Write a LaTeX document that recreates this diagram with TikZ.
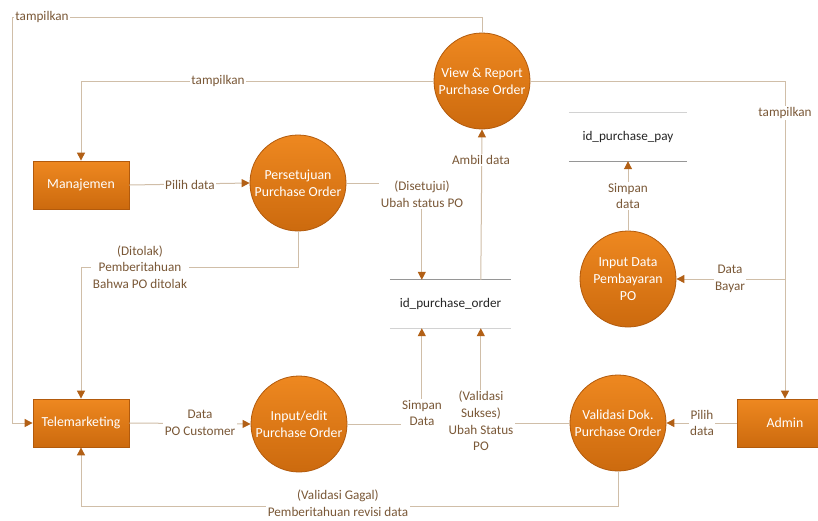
\documentclass[tikz,border=0pt]{standalone}
\usepackage{fontspec}
\setmainfont{Carlito}
\usetikzlibrary{arrows.meta,calc}
\definecolor{flow}{RGB}{208,190,168}
\definecolor{tipc}{RGB}{178,96,22}
\definecolor{lbl}{RGB}{122,88,55}
\definecolor{procA}{RGB}{238,136,32}
\definecolor{procB}{RGB}{204,106,14}
\definecolor{procE}{RGB}{178,90,12}
\definecolor{storeDark}{RGB}{150,150,150}
\definecolor{storeLight}{RGB}{210,210,210}
\tikzset{
  txt/.style={font=\fontsize{13.2}{16.7}\selectfont},
  bigtxt/.style={font=\fontsize{13.8}{17}\selectfont},
  proc/.style={circle, minimum size=96pt, inner sep=0pt, draw=procE, line width=0.8pt,
    top color=procA, bottom color=procB, text=white, align=center, bigtxt},
  ent/.style={rectangle, minimum width=96pt, minimum height=48pt, inner sep=0pt,
    draw=procE, line width=0.8pt, top color=procA, bottom color=procB, text=white, bigtxt},
  store/.style={rectangle, minimum height=48pt, inner sep=0pt, text=black!85, txt},
  flowline/.style={draw=flow, line width=1pt},
  arr/.style={flowline, -{Triangle[length=8pt,width=8pt,color=tipc]}},
  lab/.style={fill=white, text=lbl, align=center, inner sep=1.5pt, txt},
}
\begin{document}
\begin{tikzpicture}[x=1pt,y=-1pt]
\useasboundingbox[fill=white] (0,0) rectangle (818,520);

% external entities
\node[ent] (mgmt) at (81,185) {Manajemen};
\node[ent] (tele) at (81,423) {Telemarketing};
\node[ent] (admin) at (785,423) {Admin};

% processes
\node[proc] (vr)   at (482,81)  {View \& Report\\Purchase Order};
\node[proc] (pers) at (298,183) {Persetujuan\\Purchase Order};
\node[proc] (pay)  at (628,279) {Input Data\\Pembayaran\\PO};
\node[proc] (inp)  at (299,424) {Input/edit\\Purchase Order};
\node[proc] (val)  at (618,423) {Validasi Dok.\\Purchase Order};

% data stores
\node[store, minimum width=118pt] (spay) at (628,137) {id\_purchase\_pay};
\draw[storeLight, line width=1pt] (spay.north west) -- (spay.north east);
\draw[storeDark, line width=1pt] (spay.south west) -- (spay.south east);
\node[store, minimum width=121pt] (spo) at (450.5,304) {id\_purchase\_order};
\draw[storeDark, line width=1pt] (spo.north west) -- (spo.north east);
\draw[storeLight, line width=1pt] (spo.south west) -- (spo.south east);

% attach points on the data stores and flow lines
\coordinate (poA) at ($(spo.north west)+(32,0)$);
\coordinate (poB) at ($(spo.north west)+(91,0)$);
\coordinate (poC) at ($(spo.south west)+(32,0)$);
\coordinate (poD) at ($(spo.south west)+(91,0)$);
\coordinate (bayar) at (785,279);

% data flows
\draw[arr] (vr.north) -- ++(0,-15) -| (12,423) -- (tele.west);
\draw[arr] (vr.west) -| (mgmt.north);
\draw[arr] (vr.east) -| (admin.north);
\draw[arr] (mgmt.east) -- (pers.west);
\draw[arr] (pers.east) -| (poA);
\draw[arr] (poB) -- (vr.south);
\draw[arr] (pay.north) -- (spay.south);
\draw[arr] (bayar) -- (pay.east);
\draw[arr] (pers.south) -- ++(0,36) -| (tele.north);
\draw[arr] (tele.east) -- (inp.west);
\draw[arr] (inp.east) -| (poC);
\draw[arr] (val.west) -| (poD);
\draw[arr] (admin.west) -- (val.east);
\draw[arr] (val.south) -- ++(0,35) -| (tele.south);

% flow labels
\node[lab] at (42,17)   {tampilkan};
\node[lab] at (218,81)  {tampilkan};
\node[lab] at (785,113) {tampilkan};
\node[lab] at (190,185) {Pilih data};
\node[lab] at (422,194.5) {(Disetujui)\\Ubah status PO};
\node[lab] at (481,160) {Ambil data};
\node[lab] at (628,196) {Simpan\\data};
\node[lab] at (730,279) {Data\\Bayar};
\node[lab] at (140,267) {(Ditolak)\\Pemberitahuan\\Bahwa PO ditolak};
\node[lab] at (200,423) {Data\\PO Customer};
\node[lab] at (422,413) {Simpan\\Data};
\node[lab] at (481,421) {(Validasi\\Sukses)\\Ubah Status\\PO};
\node[lab] at (702,423) {Pilih\\data};
\node[lab] at (338,503.5) {(Validasi Gagal)\\Pemberitahuan revisi data};
\end{tikzpicture}
\end{document}
